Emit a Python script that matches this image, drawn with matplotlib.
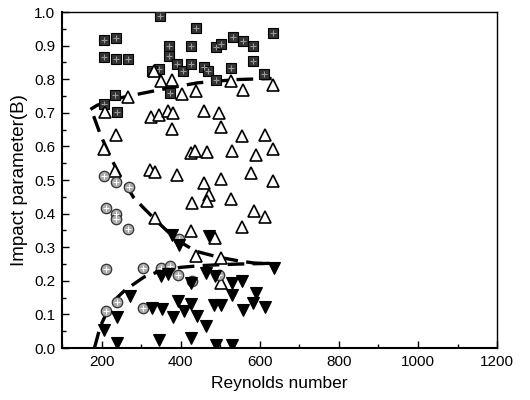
import numpy as np
import matplotlib
matplotlib.use("Agg")
import matplotlib.pyplot as plt

plt.rcParams['font.family'] = ['Liberation Sans', 'DejaVu Sans']

# squares (top group)
sq_x = [347, 439, 205, 237, 371, 425, 489, 502, 531, 557, 582, 582, 207, 237, 267,
        371, 391, 406, 425, 459, 468, 489, 527, 345, 328, 372, 235, 205, 239, 633, 610]
sq_y = [0.987, 0.953, 0.918, 0.923, 0.898, 0.898, 0.895, 0.905, 0.925, 0.915, 0.898,
        0.855, 0.866, 0.861, 0.861, 0.868, 0.846, 0.824, 0.846, 0.835, 0.824, 0.799,
        0.834, 0.829, 0.824, 0.759, 0.754, 0.727, 0.701, 0.938, 0.814]

# open triangles
tri_x = [332, 349, 379, 404, 438, 527, 557, 633, 458, 497, 501, 268, 209, 324, 345,
         368, 381, 237, 379, 554, 207, 425, 435, 466, 529, 590, 612, 633, 322, 336,
         390, 235, 458, 502, 578, 633, 472, 466, 428, 527, 585, 612, 555, 425, 486,
         336, 438, 502, 502]
tri_y = [0.824, 0.794, 0.799, 0.757, 0.766, 0.794, 0.767, 0.784, 0.706, 0.700, 0.659,
         0.747, 0.701, 0.688, 0.692, 0.704, 0.700, 0.635, 0.652, 0.632, 0.592, 0.580,
         0.585, 0.582, 0.585, 0.575, 0.635, 0.592, 0.531, 0.525, 0.516, 0.528, 0.492,
         0.504, 0.521, 0.496, 0.456, 0.438, 0.433, 0.443, 0.408, 0.390, 0.360, 0.347,
         0.327, 0.387, 0.274, 0.269, 0.193]

# grey circles
cir_x = [207, 237, 270, 212, 237, 237, 268, 396, 211, 305, 350, 372, 393, 429, 497,
         212, 240, 305]
cir_y = [0.513, 0.493, 0.478, 0.417, 0.398, 0.383, 0.355, 0.323, 0.235, 0.237, 0.237,
         0.244, 0.216, 0.198, 0.218, 0.111, 0.136, 0.118]

# filled down triangles
dn_x = [205, 239, 271, 328, 354, 380, 394, 408, 426, 442, 465, 485, 503, 349, 368,
        425, 463, 486, 529, 556, 635, 529, 557, 590, 584, 612, 238, 346, 427, 490,
        530, 397, 379, 472]
dn_y = [0.054, 0.091, 0.154, 0.118, 0.116, 0.092, 0.140, 0.109, 0.130, 0.095, 0.064,
        0.127, 0.127, 0.215, 0.219, 0.193, 0.223, 0.213, 0.192, 0.198, 0.238, 0.158,
        0.113, 0.163, 0.133, 0.123, 0.015, 0.025, 0.030, 0.009, 0.010, 0.307, 0.337,
        0.332]

# dashed trend curves
c1_x = [172, 188, 230, 290, 341, 400, 442, 500, 544, 600, 630]
c1_y = [0.710, 0.722, 0.740, 0.755, 0.767, 0.780, 0.789, 0.795, 0.799, 0.801, 0.802]
c2_x = [180, 197, 226, 248, 281, 307, 341, 374, 404, 438, 497, 548, 585, 630]
c2_y = [0.690, 0.635, 0.560, 0.510, 0.448, 0.416, 0.376, 0.339, 0.312, 0.288, 0.270,
        0.259, 0.253, 0.250]
c3_x = [182, 190, 197, 215, 235, 259, 307, 350, 400, 450, 500, 550, 630]
c3_y = [0.000, 0.035, 0.065, 0.110, 0.145, 0.172, 0.211, 0.230, 0.240, 0.245, 0.248,
        0.250, 0.252]

fig = plt.figure(figsize=(5.3, 4.0), dpi=100)
ax = fig.add_axes([0.117, 0.13, 0.821, 0.84])

for cx, cy in [(c1_x, c1_y), (c2_x, c2_y), (c3_x, c3_y)]:
    ax.plot(cx, cy, color='black', lw=2.4, ls=(0, (5, 2.5)), zorder=2)

ax.plot(sq_x, sq_y, ls='none', marker='s', ms=7, mfc='#333333', mec='black', mew=0.8, zorder=3)
ax.plot(sq_x, sq_y, ls='none', marker='+', ms=4, mec='#999999', mew=0.8, zorder=3)
ax.plot(tri_x, tri_y, ls='none', marker='^', ms=9, mfc='white', mec='black', mew=1.2, zorder=4)
ax.plot(cir_x, cir_y, ls='none', marker='o', ms=7.5, mfc='#aaaaaa', mec='#333333', mew=0.9, zorder=4)
ax.plot(cir_x, cir_y, ls='none', marker='+', ms=4.5, mec='white', mew=0.8, zorder=4)
ax.plot(dn_x, dn_y, ls='none', marker='v', ms=8.5, mfc='black', mec='black', mew=0.8, zorder=4)

ax.set_xlim(100, 1200)
ax.set_ylim(0, 1.0)
ax.set_xticks(np.arange(200, 1201, 200))
ax.set_xticks(np.arange(100, 1201, 100), minor=True)
ax.set_yticks(np.arange(0, 1.01, 0.1))
ax.set_yticks(np.arange(0, 1.01, 0.05), minor=True)
ax.set_yticklabels(['%.1f' % v for v in np.arange(0, 1.01, 0.1)])
ax.tick_params(which='both', direction='in', labelsize=11, width=1)
ax.tick_params(which='major', length=5, pad=5)
ax.tick_params(which='minor', length=3)
for s in ['left', 'bottom']:
    ax.spines[s].set_linewidth(1.5)
for s in ['top', 'right']:
    ax.spines[s].set_linewidth(1.0)

ax.set_xlabel('Reynolds number', fontsize=12.5, labelpad=5)
ax.set_ylabel('Impact parameter(B)', fontsize=13.5, labelpad=4)

fig.savefig('out.png', dpi=100)
